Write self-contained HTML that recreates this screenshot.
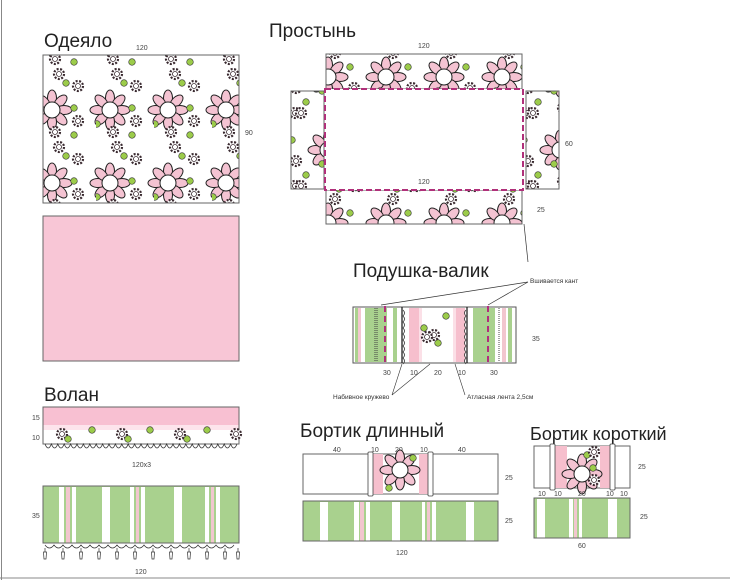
<!DOCTYPE html>
<html><head><meta charset="utf-8"><style>
html,body{margin:0;padding:0;background:#fff}
svg{display:block}
text{font-family:"Liberation Sans","DejaVu Sans",sans-serif;fill:#222}
.t{font-size:19px}
.s{font-size:7px;fill:#444}
</style></head><body>
<svg width="730" height="580" viewBox="0 0 730 580" xmlns="http://www.w3.org/2000/svg">
<defs>
<g id="bf">
 <g fill="#f4c3d2" stroke="#222" stroke-width="1">
  <ellipse cx="0" cy="-12" rx="4.5" ry="8"/>
  <ellipse cx="0" cy="-12" rx="4.5" ry="8" transform="rotate(45)"/>
  <ellipse cx="0" cy="-12" rx="4.5" ry="8" transform="rotate(90)"/>
  <ellipse cx="0" cy="-12" rx="4.5" ry="8" transform="rotate(135)"/>
  <ellipse cx="0" cy="-12" rx="4.5" ry="8" transform="rotate(180)"/>
  <ellipse cx="0" cy="-12" rx="4.5" ry="8" transform="rotate(225)"/>
  <ellipse cx="0" cy="-12" rx="4.5" ry="8" transform="rotate(270)"/>
  <ellipse cx="0" cy="-12" rx="4.5" ry="8" transform="rotate(315)"/>
 </g>
 <circle r="8" fill="#fff" stroke="#222" stroke-width="1"/>
</g>
<g id="sf">
 <circle r="5" fill="#fff" stroke="#3a2a30" stroke-width="2.2" stroke-dasharray="2 1.5"/>
 <circle r="2.5" fill="#fff" stroke="#3a2a30" stroke-width="0.8"/>
</g>
<g id="gd"><circle r="3.3" fill="#9ccc4a" stroke="#333" stroke-width="0.6"/></g>
<pattern id="fl" width="58" height="73" patternUnits="userSpaceOnUse" patternTransform="translate(38,18)">
 <use href="#bf" x="14" y="19"/>
 <use href="#bf" x="14" y="92"/>
 <use href="#bf" x="72" y="19"/>
 <use href="#sf" x="21" y="-17"/><use href="#sf" x="21" y="56"/>
 <use href="#sf" x="17" y="-32"/><use href="#sf" x="17" y="41"/>
 <use href="#sf" x="40" y="30"/>
 <use href="#sf" x="40" y="-5"/><use href="#sf" x="40" y="68"/>
 <use href="#gd" x="36" y="17"/>
 <use href="#gd" x="28" y="-8"/><use href="#gd" x="28" y="65"/>
 <use href="#gd" x="36" y="44"/>
 <use href="#gd" x="1" y="33"/>
</pattern>
<pattern id="fl2" width="58" height="73" patternUnits="userSpaceOnUse" patternTransform="translate(314,58)">
 <use href="#bf" x="14" y="19"/><use href="#bf" x="14" y="92"/><use href="#bf" x="72" y="19"/>
 <use href="#sf" x="21" y="-5"/><use href="#sf" x="21" y="68"/>
 <use href="#sf" x="17" y="50"/><use href="#sf" x="39" y="55"/><use href="#sf" x="40" y="30"/>
 <use href="#sf" x="45" y="-18"/><use href="#sf" x="45" y="55"/>
 <use href="#gd" x="36" y="9"/><use href="#gd" x="25" y="58"/><use href="#gd" x="30" y="36"/>
 <use href="#gd" x="50" y="44"/><use href="#gd" x="8" y="33"/>
</pattern>
</defs>

<line x1="1.5" y1="0" x2="1.5" y2="580" stroke="#888" stroke-width="1"/>
<line x1="0" y1="578" x2="730" y2="578" stroke="#888" stroke-width="1"/>

<!-- Одеяло -->
<text x="44" y="47" class="t">Одеяло</text>
<text x="136" y="50" class="s">120</text>
<text x="245" y="135" class="s">90</text>
<rect x="43" y="55" width="196" height="148" fill="url(#fl)" stroke="#666" stroke-width="1"/>
<rect x="43" y="216" width="196" height="145" fill="#f8c6d6" stroke="#666" stroke-width="1"/>

<!-- Простынь -->
<text x="269" y="37" class="t">Простынь</text>
<text x="418" y="48" class="s">120</text>
<rect x="326" y="54" width="196" height="35" fill="url(#fl2)" stroke="#666"/>
<rect x="326" y="190" width="196" height="34" fill="url(#fl2)" stroke="#666"/>
<rect x="291" y="91" width="33" height="98" fill="url(#fl2)" stroke="#666"/>
<rect x="526" y="91" width="33" height="98" fill="url(#fl2)" stroke="#666"/>
<rect x="325" y="89" width="198" height="101" fill="#fff" stroke="#b0307a" stroke-width="2" stroke-dasharray="6 3"/>
<text x="418" y="184" class="s">120</text>
<text x="565" y="146" class="s">60</text>
<text x="537" y="212" class="s">25</text>
<polyline points="524,224 528,262" fill="none" stroke="#333" stroke-width="0.7"/>

<!-- Подушка-валик -->
<text x="353" y="277" class="t">Подушка-валик</text>
<text x="530" y="283" style="font-size:6.5px;fill:#333">Вшивается кант</text>
<line x1="528" y1="282" x2="381" y2="305" stroke="#333" stroke-width="0.7"/>
<line x1="528" y1="282" x2="488" y2="305" stroke="#333" stroke-width="0.7"/>
<g>
 <rect x="353" y="307" width="163" height="56" fill="#fff" stroke="#555"/>
 <rect x="355" y="308" width="3" height="54" fill="#a9d18e"/>
 <rect x="358" y="308" width="3" height="54" fill="#f2c6cf"/>
 <rect x="365" y="308" width="22" height="54" fill="#a9d18e"/>
 <line x1="375" y1="308" x2="375" y2="362" stroke="#444" stroke-dasharray="1 1"/>
 <line x1="377" y1="308" x2="377" y2="362" stroke="#444" stroke-dasharray="1 1"/>
 <line x1="385" y1="306" x2="385" y2="364" stroke="#b0307a" stroke-width="2" stroke-dasharray="6 4"/>
 <rect x="393" y="308" width="4" height="54" fill="#a9d18e"/>
 <line x1="402" y1="307" x2="402" y2="363" stroke="#222" stroke-width="1.3"/>
 <path d="M403,310 q3,3 0,6 q3,3 0,6 q3,3 0,6 q3,3 0,6 q3,3 0,6 q3,3 0,6 q3,3 0,6 q3,3 0,6 q3,3 0,6" fill="none" stroke="#333" stroke-width="0.8"/>
 <rect x="409" y="308" width="10" height="54" fill="#f6bfcd"/>
 <rect x="419" y="308" width="3" height="54" fill="#fbe0e7"/>
 <use href="#gd" x="424" y="328"/><use href="#gd" x="438" y="343"/><use href="#gd" x="446" y="316"/>
 <use href="#sf" x="434" y="335"/><use href="#sf" x="427" y="337"/>
 <rect x="453" y="308" width="3" height="54" fill="#fbe0e7"/>
 <rect x="456" y="308" width="9" height="54" fill="#f6bfcd"/>
 <path d="M466,310 q-3,3 0,6 q-3,3 0,6 q-3,3 0,6 q-3,3 0,6 q-3,3 0,6 q-3,3 0,6 q-3,3 0,6 q-3,3 0,6 q-3,3 0,6" fill="none" stroke="#333" stroke-width="0.8"/>
 <line x1="467" y1="307" x2="467" y2="363" stroke="#222" stroke-width="1.3"/>
 <rect x="473" y="308" width="22" height="54" fill="#a9d18e"/>
 <line x1="488" y1="306" x2="488" y2="364" stroke="#b0307a" stroke-width="2" stroke-dasharray="6 4"/>
 <line x1="499" y1="308" x2="499" y2="362" stroke="#444" stroke-dasharray="1 1"/>
 <rect x="502" y="308" width="4" height="54" fill="#f2c6cf"/>
 <rect x="508" y="308" width="4" height="54" fill="#a9d18e"/>
</g>
<text x="383" y="375" class="s">30</text>
<text x="410" y="375" class="s">10</text>
<text x="434" y="375" class="s">20</text>
<text x="458" y="375" class="s">10</text>
<text x="490" y="375" class="s">30</text>
<text x="532" y="341" class="s">35</text>
<line x1="402" y1="364" x2="392" y2="395" stroke="#333" stroke-width="0.6"/>
<line x1="430" y1="364" x2="392" y2="395" stroke="#333" stroke-width="0.6"/>
<line x1="455" y1="364" x2="465" y2="395" stroke="#333" stroke-width="0.6"/>
<text x="333" y="399" style="font-size:6.5px;fill:#333">Набивное кружево</text>
<text x="467" y="399" style="font-size:6.5px;fill:#333">Атласная лента 2,5см</text>

<!-- Волан -->
<text x="44" y="401" class="t">Волан</text>
<rect x="43" y="407" width="196" height="18" fill="#f8c0d2"/>
<rect x="43" y="425" width="196" height="5" fill="#fde4ec"/>
<rect x="43" y="407" width="196" height="37" fill="none" stroke="#666"/>
<g>
 <use href="#sf" x="62" y="434"/><use href="#gd" x="68" y="439"/>
 <use href="#sf" x="122" y="434"/><use href="#gd" x="128" y="439"/>
 <use href="#sf" x="180" y="434"/><use href="#gd" x="187" y="439"/>
 <use href="#sf" x="236" y="434"/>
 <use href="#gd" x="92" y="430"/><use href="#gd" x="150" y="430"/><use href="#gd" x="207" y="430"/>
</g>
<path d="M45,444 q3.2,8 6.4,0 q3.2,8 6.4,0 q3.2,8 6.4,0 q3.2,8 6.4,0 q3.2,8 6.4,0 q3.2,8 6.4,0 q3.2,8 6.4,0 q3.2,8 6.4,0 q3.2,8 6.4,0 q3.2,8 6.4,0 q3.2,8 6.4,0 q3.2,8 6.4,0 q3.2,8 6.4,0 q3.2,8 6.4,0 q3.2,8 6.4,0 q3.2,8 6.4,0 q3.2,8 6.4,0 q3.2,8 6.4,0 q3.2,8 6.4,0 q3.2,8 6.4,0 q3.2,8 6.4,0 q3.2,8 6.4,0 q3.2,8 6.4,0 q3.2,8 6.4,0 q3.2,8 6.4,0 q3.2,8 6.4,0 q3.2,8 6.4,0 q3.2,8 6.4,0 q3.2,8 6.4,0 q3.2,8 6.4,0" fill="none" stroke="#333" stroke-width="0.8"/>
<text x="32" y="420" class="s">15</text>
<text x="32" y="440" class="s">10</text>
<text x="132" y="467" class="s">120x3</text>

<g>
 <rect x="43" y="486" width="196" height="57" fill="#a9d18e"/>
 <rect x="59" y="487" width="5" height="56" fill="#fff"/>
 <rect x="66" y="487" width="4" height="56" fill="#f2c6cf"/>
 <rect x="72" y="487" width="4" height="56" fill="#fff"/>
 <rect x="102" y="487" width="8" height="56" fill="#fff"/>
 <rect x="130" y="487" width="4" height="56" fill="#fff"/>
 <rect x="136" y="487" width="3" height="56" fill="#f2c6cf"/>
 <rect x="141" y="487" width="4" height="56" fill="#fff"/>
 <rect x="174" y="487" width="8" height="56" fill="#fff"/>
 <rect x="205" y="487" width="4" height="56" fill="#fff"/>
 <rect x="211" y="487" width="3" height="56" fill="#f2c6cf"/>
 <rect x="216" y="487" width="4" height="56" fill="#fff"/>
 <rect x="43" y="486" width="196" height="57" fill="none" stroke="#666"/>
</g>
<path d="M45,545 q4.5,6 9,0 q4.5,6 9,0 q4.5,6 9,0 q4.5,6 9,0 q4.5,6 9,0 q4.5,6 9,0 q4.5,6 9,0 q4.5,6 9,0 q4.5,6 9,0 q4.5,6 9,0 q4.5,6 9,0 q4.5,6 9,0 q4.5,6 9,0 q4.5,6 9,0 q4.5,6 9,0 q4.5,6 9,0 q4.5,6 9,0 q4.5,6 9,0 q4.5,6 9,0 q4.5,6 9,0 q4.5,6 9,0" fill="none" stroke="#333" stroke-width="0.7"/>
<g fill="#fff" stroke="#333" stroke-width="0.7">
 <path d="M45,548v4m-1.5,0h3l-.5,7h-2z"/><path d="M63,548v4m-1.5,0h3l-.5,7h-2z"/>
 <path d="M81,548v4m-1.5,0h3l-.5,7h-2z"/><path d="M99,548v4m-1.5,0h3l-.5,7h-2z"/>
 <path d="M117,548v4m-1.5,0h3l-.5,7h-2z"/><path d="M135,548v4m-1.5,0h3l-.5,7h-2z"/>
 <path d="M153,548v4m-1.5,0h3l-.5,7h-2z"/><path d="M171,548v4m-1.5,0h3l-.5,7h-2z"/>
 <path d="M189,548v4m-1.5,0h3l-.5,7h-2z"/><path d="M207,548v4m-1.5,0h3l-.5,7h-2z"/>
 <path d="M225,548v4m-1.5,0h3l-.5,7h-2z"/><path d="M238,548v4m-1.5,0h3l-.5,7h-2z"/>
</g>
<text x="32" y="518" class="s">35</text>
<text x="135" y="574" class="s">120</text>

<!-- Бортик длинный -->
<text x="300" y="437" class="t">Бортик длинный</text>
<text x="333" y="452" class="s">40</text>
<text x="371" y="452" class="s">10</text>
<text x="395" y="452" class="s">20</text>
<text x="420" y="452" class="s">10</text>
<text x="458" y="452" class="s">40</text>
<rect x="303" y="454" width="195" height="40" fill="#fff" stroke="#666"/>
<rect x="373" y="454" width="10" height="40" fill="#f6bfcd"/>
<rect x="419" y="454" width="9" height="40" fill="#f6bfcd"/>
<use href="#bf" x="400" y="470"/><use href="#gd" x="389" y="488"/><use href="#gd" x="413" y="458"/>
<rect x="368" y="452" width="5" height="44" rx="1" fill="#fff" stroke="#444" stroke-width="0.8"/>
<rect x="428" y="452" width="5" height="44" rx="1" fill="#fff" stroke="#444" stroke-width="0.8"/>
<text x="505" y="480" class="s">25</text>
<g>
 <rect x="303" y="501" width="195" height="40" fill="#a9d18e"/>
 <rect x="320" y="502" width="8" height="39" fill="#fff"/>
 <rect x="354" y="502" width="5" height="39" fill="#fff"/>
 <rect x="360" y="502" width="4" height="39" fill="#f2c6cf"/>
 <rect x="366" y="502" width="4" height="39" fill="#fff"/>
 <rect x="392" y="502" width="8" height="39" fill="#fff"/>
 <rect x="422" y="502" width="3" height="39" fill="#fff"/>
 <rect x="427" y="502" width="3" height="39" fill="#f2c6cf"/>
 <rect x="432" y="502" width="4" height="39" fill="#fff"/>
 <rect x="466" y="502" width="8" height="39" fill="#fff"/>
 <rect x="303" y="501" width="195" height="40" fill="none" stroke="#666"/>
</g>
<text x="505" y="523" class="s">25</text>
<text x="396" y="555" class="s">120</text>

<!-- Бортик короткий -->
<text x="530" y="440" class="t" style="font-size:18px">Бортик короткий</text>
<rect x="534" y="446" width="96" height="42" fill="#fff" stroke="#666"/>
<rect x="555" y="446" width="12" height="42" fill="#f6bfcd"/>
<rect x="600" y="446" width="10" height="42" fill="#f6bfcd"/>
<use href="#bf" x="582" y="474"/><use href="#gd" x="587" y="455"/><use href="#gd" x="593" y="468"/>
<use href="#sf" x="594" y="452"/><use href="#sf" x="594" y="480"/>
<rect x="550" y="444" width="5" height="46" rx="1" fill="#fff" stroke="#444" stroke-width="0.8"/>
<rect x="610" y="444" width="5" height="46" rx="1" fill="#fff" stroke="#444" stroke-width="0.8"/>
<text x="638" y="469" class="s">25</text>
<text x="538" y="496" class="s">10</text>
<text x="554" y="496" class="s">10</text>
<text x="578" y="496" class="s">20</text>
<text x="606" y="496" class="s">10</text>
<text x="620" y="496" class="s">10</text>
<g>
 <rect x="534" y="498" width="96" height="40" fill="#a9d18e"/>
 <rect x="537" y="499" width="8" height="39" fill="#fff"/>
 <rect x="569" y="499" width="4" height="39" fill="#fff"/>
 <rect x="574" y="499" width="3" height="39" fill="#f2c6cf"/>
 <rect x="579" y="499" width="3" height="39" fill="#fff"/>
 <rect x="608" y="499" width="9" height="39" fill="#fff"/>
 <rect x="534" y="498" width="96" height="40" fill="none" stroke="#666"/>
</g>
<text x="640" y="519" class="s">25</text>
<text x="578" y="548" class="s">60</text>
</svg>
</body></html>
